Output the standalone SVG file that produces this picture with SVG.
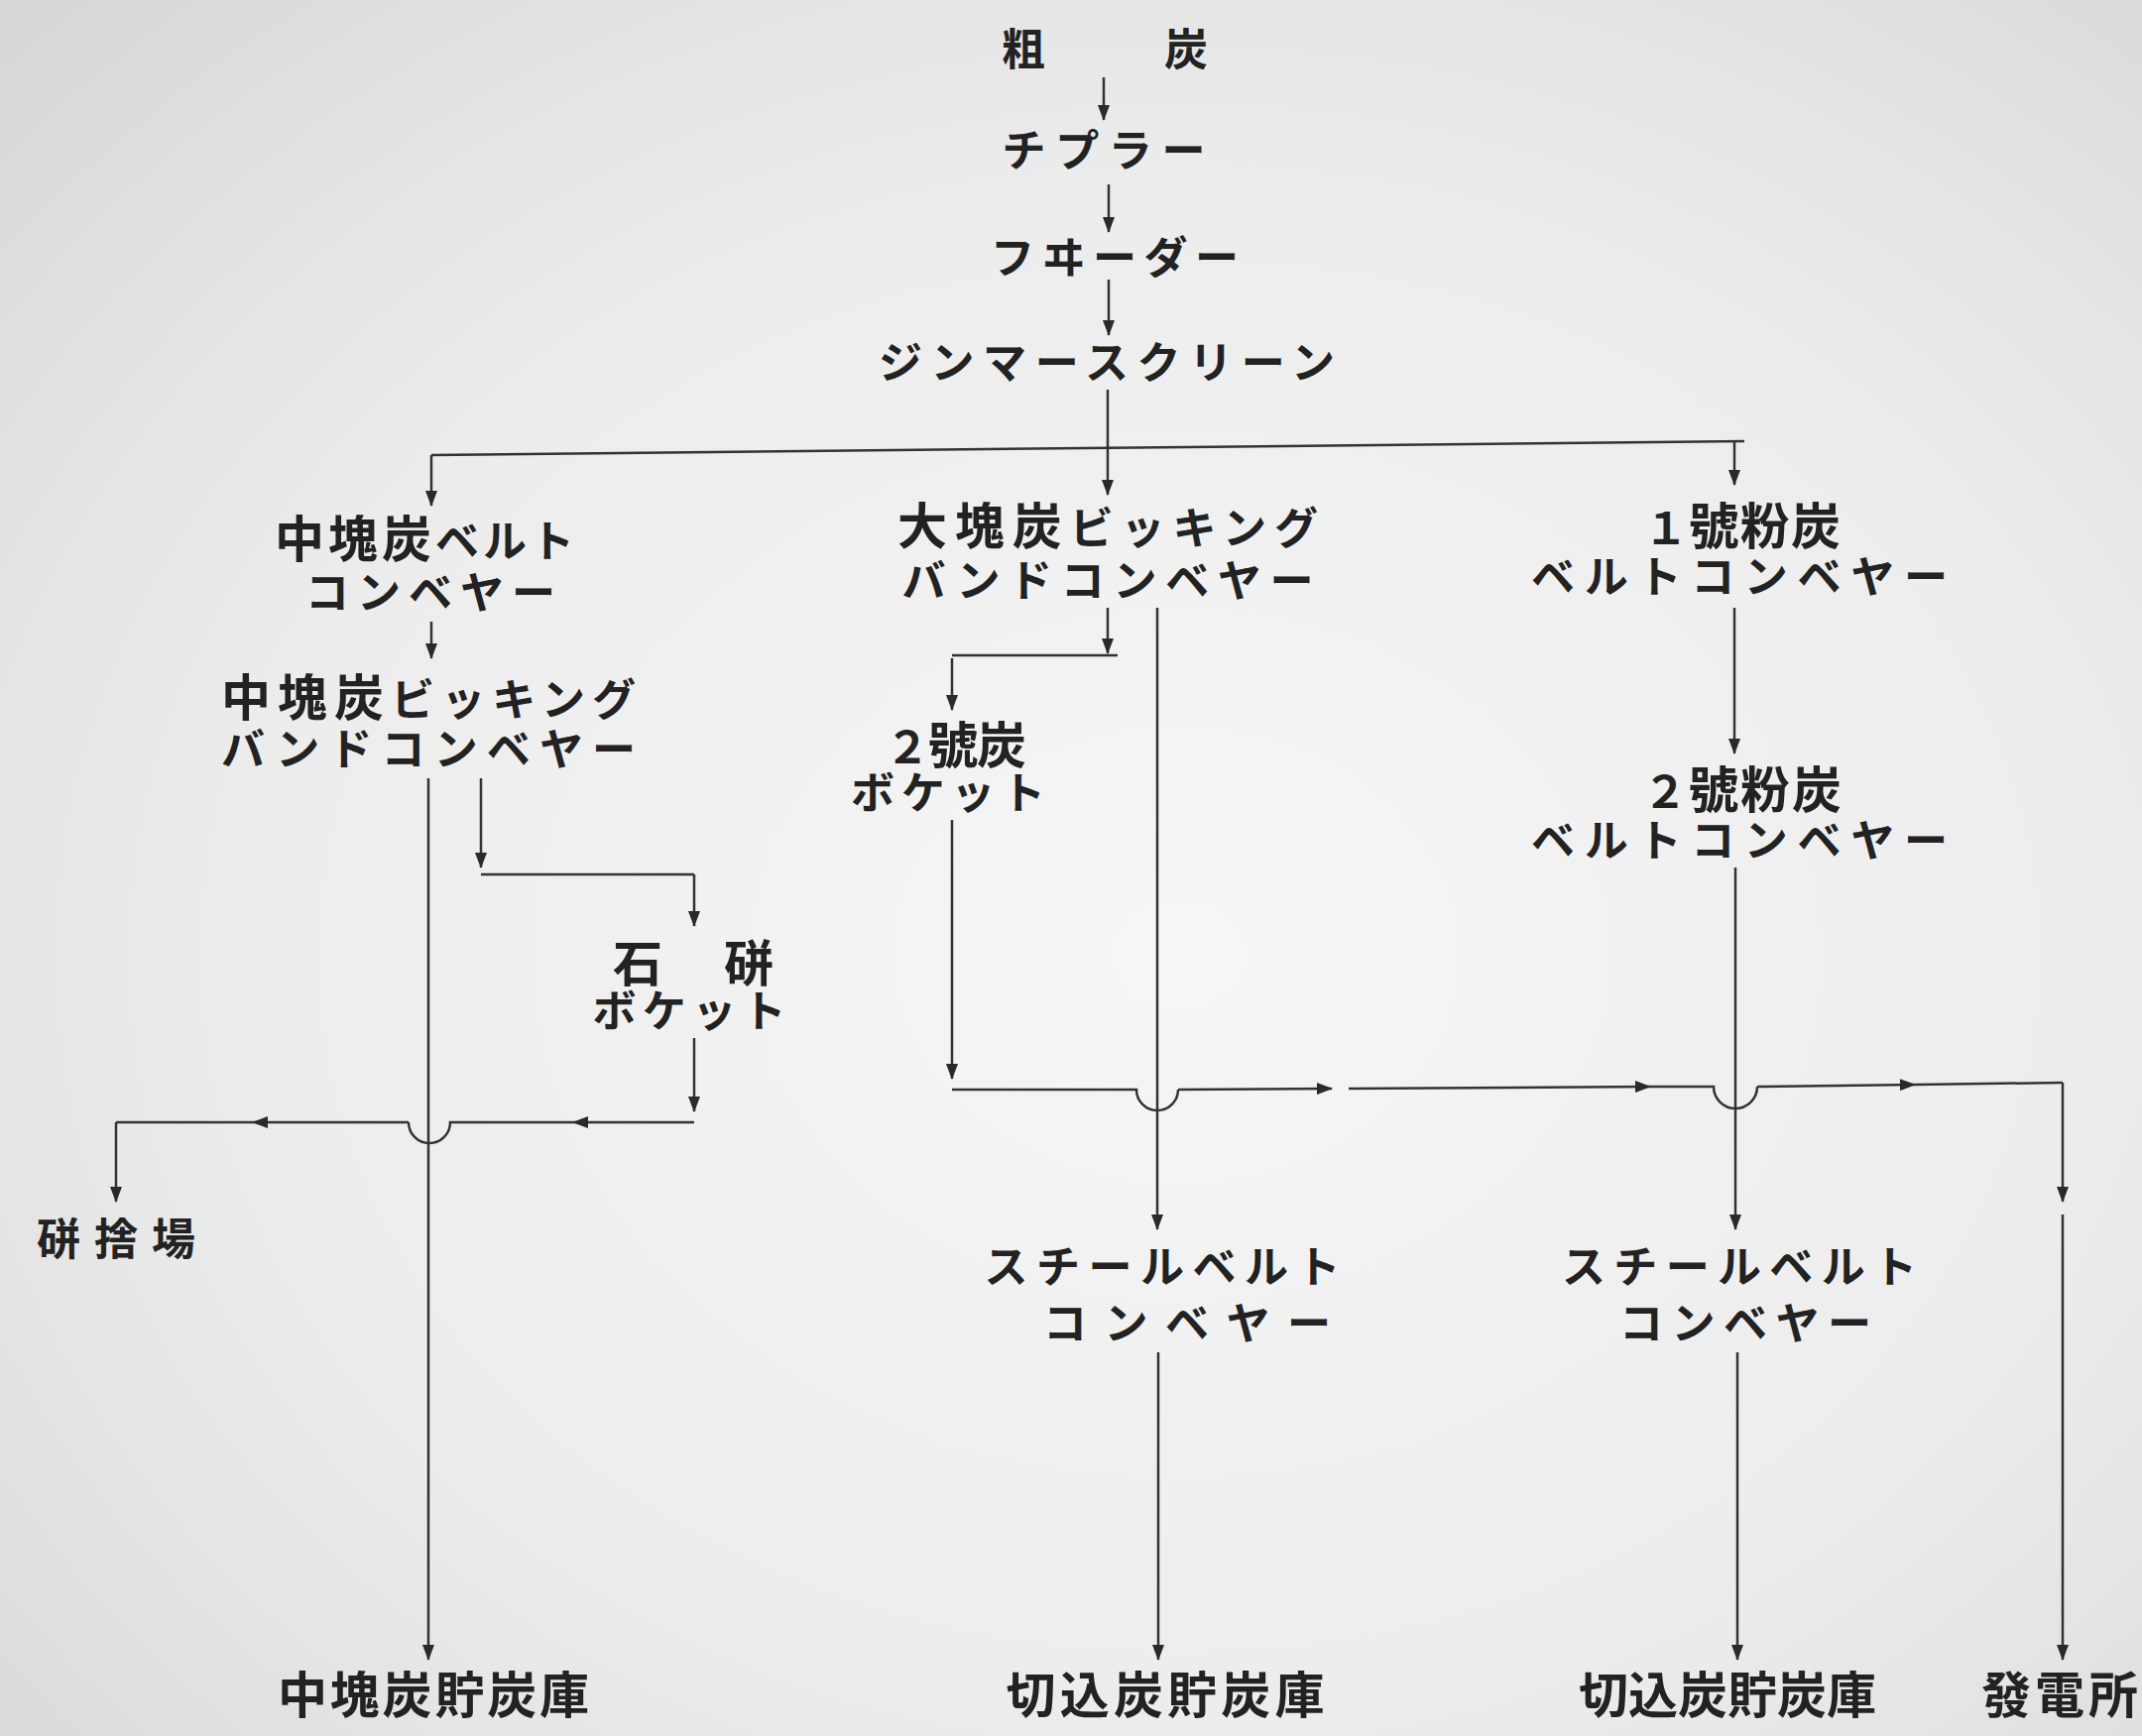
<svg xmlns="http://www.w3.org/2000/svg" width="2160" height="1751" viewBox="0 0 2160 1751">
<defs>
<radialGradient id="bg" cx="0.55" cy="0.55" r="0.75">
<stop offset="0" stop-color="#f6f6f6"/>
<stop offset="0.6" stop-color="#ececec"/>
<stop offset="1" stop-color="#d8d8d8"/>
</radialGradient>
<marker id="ah" markerUnits="userSpaceOnUse" markerWidth="16" markerHeight="12" refX="15" refY="6" orient="auto">
<path d="M0,0 L16,6 L0,12 Z" fill="#2a2a2a"/>
</marker>
<style>
.t{font-family:"Noto Sans CJK JP","Noto Sans CJK SC",sans-serif;font-weight:700;fill:#222;text-anchor:middle;font-size:44px}
.k{font-size:50px}
.b{font-size:50px}
.c{fill:none;stroke:#333;stroke-width:2.5}
.a{marker-end:url(#ah)}
</style>
</defs>
<rect width="2160" height="1751" fill="url(#bg)"/>

<g id="connectors">
<path class="c a" d="M1113,78 V121"/>
<path class="c a" d="M1118,186 V234"/>
<path class="c a" d="M1118,282 V338"/>
<path class="c" d="M1117,393 V452"/>
<path class="c" d="M435,459 L1759,445"/>
<path class="c a" d="M435,459 V510"/>
<path class="c a" d="M1117,452 V499"/>
<path class="c a" d="M1749,446 V489"/>
<!-- left column -->
<path class="c a" d="M435,627 V664"/>
<path class="c a" d="M432,785 V1674"/>
<path class="c a" d="M485,785 V875"/>
<path class="c" d="M485,882 H700"/>
<path class="c a" d="M700,882 V934"/>
<path class="c a" d="M700,1047 V1121"/>
<path class="c a" d="M700,1132 H578"/>
<path class="c" d="M578,1132 H454 A21,21 0 0 1 412,1132"/>
<path class="c a" d="M412,1132 H255"/>
<path class="c" d="M255,1132 H117"/>
<path class="c a" d="M117,1132 V1212"/>
<!-- middle column -->
<path class="c a" d="M1117,613 V659"/>
<path class="c" d="M1127,661 H960"/>
<path class="c a" d="M960,664 V716"/>
<path class="c a" d="M960,827 V1088"/>
<path class="c a" d="M1167,613 V1240"/>
<path class="c" d="M960,1099 H1146 A21,21 0 0 0 1188,1099"/>
<path class="c a" d="M1188,1099 L1343,1098"/>
<path class="c a" d="M1360,1098 L1664,1096"/>
<path class="c" d="M1664,1096 L1728,1096 A22,22 0 0 0 1772,1096"/>
<path class="c a" d="M1772,1096 L1931,1094"/>
<path class="c" d="M1931,1094 L2080,1092"/>
<path class="c a" d="M2080,1092 V1212"/>
<path class="c a" d="M2080,1225 V1674"/>
<path class="c a" d="M1168,1364 V1674"/>
<!-- right column -->
<path class="c a" d="M1749,613 V760"/>
<path class="c a" d="M1750,875 V1240"/>
<path class="c a" d="M1752,1364 V1674"/>
</g>

<g id="n-raw"><text class="t" x="1114" y="66" font-size="52" textLength="208" lengthAdjust="spacing">粗　炭</text></g>
<g id="n-tippler"><text class="t" x="1113" y="168" textLength="205" lengthAdjust="spacing">チプラー</text></g>
<g id="n-feeder"><text class="t" x="1124" y="276" textLength="250" lengthAdjust="spacing">フヰーダー</text></g>
<g id="n-screen"><text class="t" x="1116" y="382" textLength="460" lengthAdjust="spacing">ジンマースクリーン</text></g>

<g id="n-mid-belt"><text class="t"><tspan x="428" y="562" textLength="302" lengthAdjust="spacing"><tspan class="k">中塊炭</tspan>ベルト</tspan><tspan x="434" y="614" textLength="252" lengthAdjust="spacing">コンベヤー</tspan></text></g>
<g id="n-mid-picking"><text class="t"><tspan x="432" y="722" textLength="418" lengthAdjust="spacing"><tspan class="k">中塊炭</tspan>ビッキング</tspan><tspan x="432" y="772" textLength="418" lengthAdjust="spacing">バンドコンベヤー</tspan></text></g>
<g id="n-stone-pocket"><text class="t"><tspan x="699" y="990" textLength="162" lengthAdjust="spacing" class="k">石　硑</tspan><tspan x="695" y="1036" textLength="195" lengthAdjust="spacing">ボケット</tspan></text></g>
<g id="n-dump"><text class="t" x="117" y="1266" font-size="55" textLength="160" lengthAdjust="spacing">硑捨場</text></g>
<g id="n-mid-store"><text class="t b" x="437" y="1728" textLength="314" lengthAdjust="spacing">中塊炭貯炭庫</text></g>

<g id="n-large-picking"><text class="t"><tspan x="1117" y="549" textLength="424" lengthAdjust="spacing"><tspan class="k">大塊炭</tspan>ビッキング</tspan><tspan x="1117" y="602" textLength="415" lengthAdjust="spacing">バンドコンベヤー</tspan></text></g>
<g id="n-no2-pocket"><text class="t"><tspan x="964" y="770" textLength="142" lengthAdjust="spacing">２<tspan class="k">號炭</tspan></tspan><tspan x="956" y="816" textLength="196" lengthAdjust="spacing">ボケット</tspan></text></g>
<g id="n-steel-1"><text class="t"><tspan x="1172" y="1294" textLength="359" lengthAdjust="spacing">スチールベルト</tspan><tspan x="1197" y="1351" textLength="290" lengthAdjust="spacing">コンベヤー</tspan></text></g>
<g id="n-store-1"><text class="t b" x="1175" y="1728" textLength="321" lengthAdjust="spacing">切込炭貯炭庫</text></g>

<g id="n-fine1"><text class="t"><tspan x="1757" y="549" textLength="198" lengthAdjust="spacing">１<tspan class="k">號粉炭</tspan></tspan><tspan x="1754" y="598" textLength="420" lengthAdjust="spacing">ベルトコンベヤー</tspan></text></g>
<g id="n-fine2"><text class="t"><tspan x="1757" y="815" textLength="200" lengthAdjust="spacing">２<tspan class="k">號粉炭</tspan></tspan><tspan x="1754" y="864" textLength="420" lengthAdjust="spacing">ベルトコンベヤー</tspan></text></g>
<g id="n-steel-2"><text class="t"><tspan x="1754" y="1294" textLength="358" lengthAdjust="spacing">スチールベルト</tspan><tspan x="1760" y="1351" textLength="254" lengthAdjust="spacing">コンベヤー</tspan></text></g>
<g id="n-store-2"><text class="t b" x="1742" y="1728" textLength="300" lengthAdjust="spacing">切込炭貯炭庫</text></g>
<g id="n-power"><text class="t b" x="2077" y="1728" textLength="158" lengthAdjust="spacing">發電所</text></g>
</svg>
